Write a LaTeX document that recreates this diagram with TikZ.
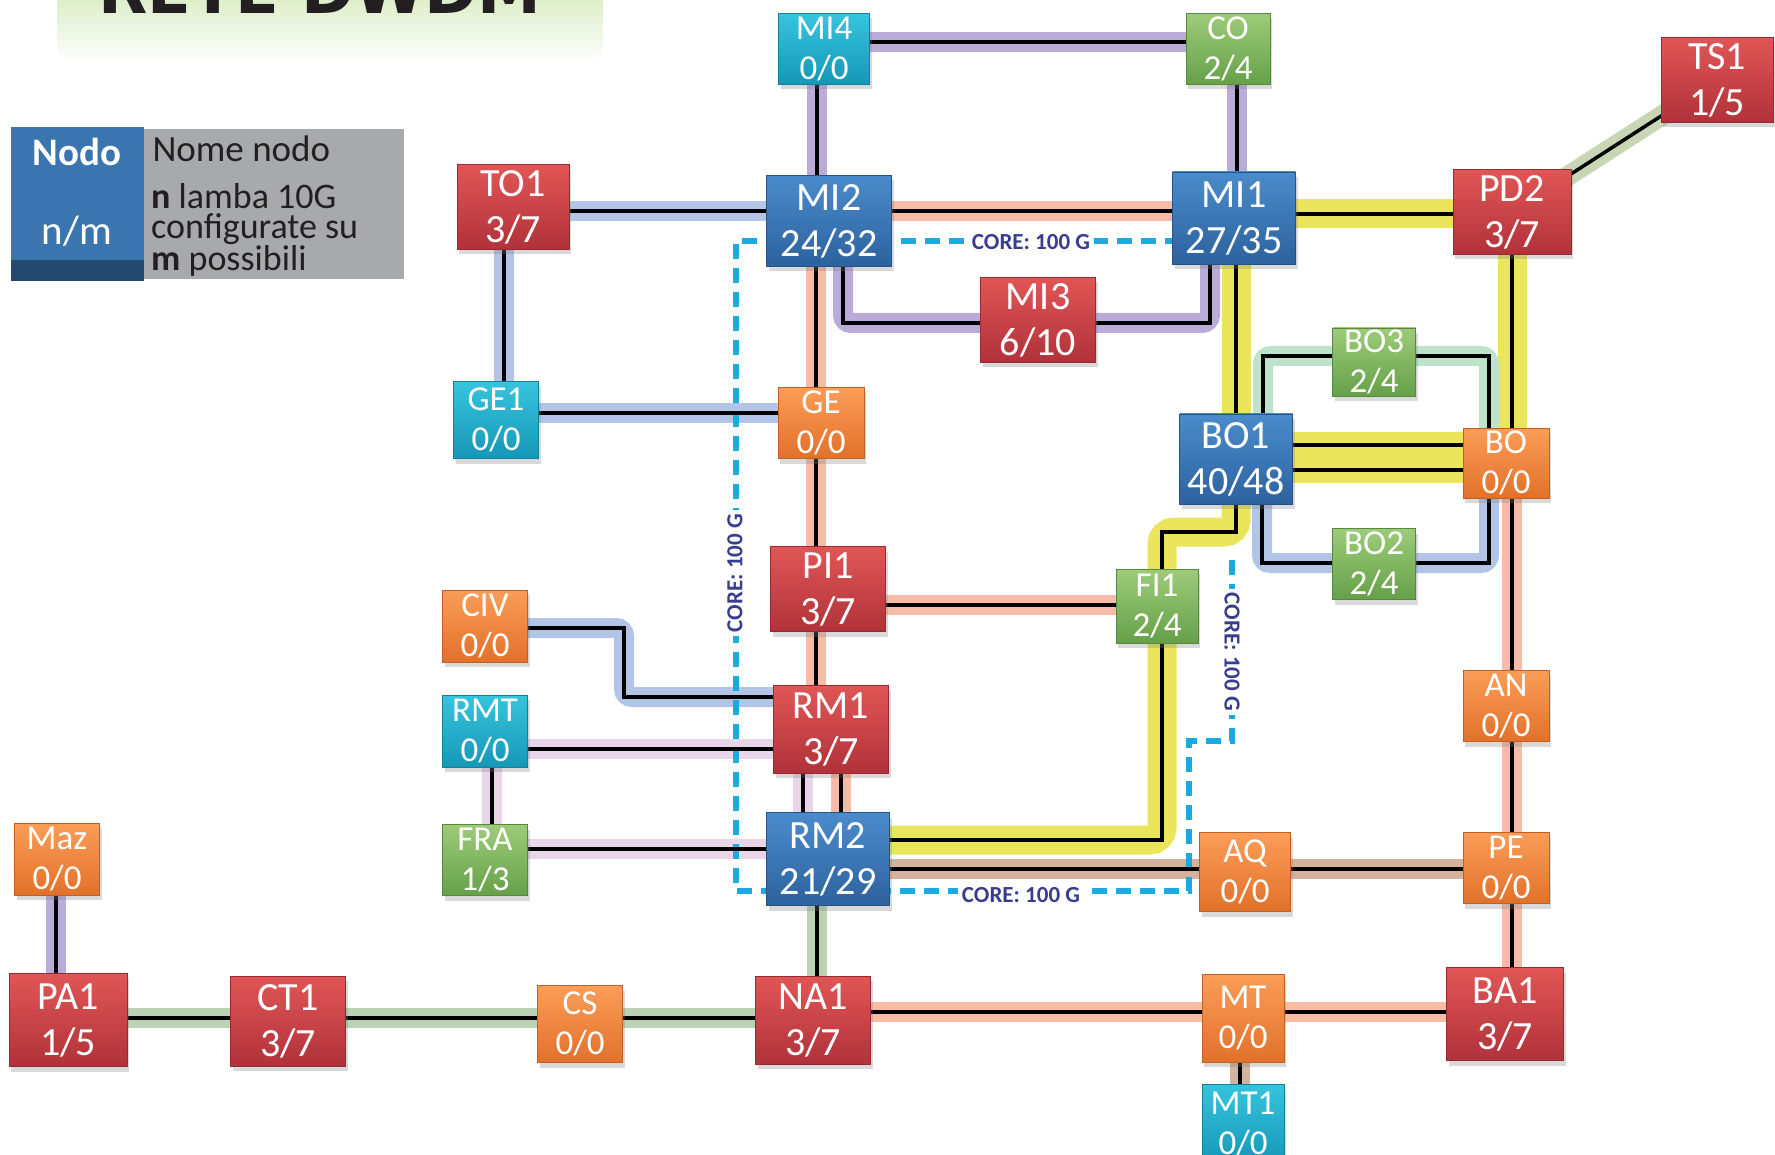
\documentclass[tikz,border=0pt]{standalone}
\usepackage{fontspec}
\setmainfont{Carlito}
\newfontfamily\titlefont{DejaVu Sans}
\usetikzlibrary{shadows}
\pgfdeclarelayer{bands}
\pgfdeclarelayer{cores}
\pgfdeclarelayer{wires}
\pgfsetlayers{bands,cores,wires,main}

% node fills
\definecolor{redT}{HTML}{E15656}\definecolor{redB}{HTML}{B0323A}
\definecolor{bluT}{HTML}{4B8BCB}\definecolor{bluB}{HTML}{2C629E}
\definecolor{cyaT}{HTML}{36C4DE}\definecolor{cyaB}{HTML}{1697B7}
\definecolor{grnT}{HTML}{9DCC79}\definecolor{grnB}{HTML}{66A049}
\definecolor{orgT}{HTML}{FB9D57}\definecolor{orgB}{HTML}{E1712B}
% link bands
\definecolor{bPur}{HTML}{BBABD9}
\definecolor{bBlu}{HTML}{B2C5E6}
\definecolor{bSal}{HTML}{F8BBA7}
\definecolor{bYel}{HTML}{EAE55A}
\definecolor{bMin}{HTML}{BFE2CB}
\definecolor{bGrn}{HTML}{BBD2B4}
\definecolor{bPnk}{HTML}{EAD6EA}
\definecolor{bTan}{HTML}{D4B29E}
\definecolor{bOli}{HTML}{C8D6B5}
% core ring
\definecolor{coreC}{HTML}{1CA9DE}
\definecolor{coreT}{HTML}{3A3D8E}
% legend
\definecolor{legB}{HTML}{3B75B0}
\definecolor{legD}{HTML}{25486F}
\definecolor{legG}{HTML}{A7A9AC}
\definecolor{ink}{HTML}{231F20}
\definecolor{banT}{HTML}{BFDF98}

\tikzset{
  box/.style 2 args={rectangle, inner sep=0pt, align=center, text=white,
    minimum width=#1pt, minimum height=#2pt,
    drop shadow={shadow xshift=2pt, shadow yshift=-5pt, opacity=.3}},
  big/.style={font=\fontsize{40}{46}\selectfont},
  small/.style={font=\fontsize{35}{40}\selectfont},
  rednode/.style={top color=redT, bottom color=redB, draw=redB!85!black, line width=.8pt},
  bluenode/.style={top color=bluT, bottom color=bluB, draw=bluB!85!black, line width=.8pt},
  cyannode/.style={top color=cyaT, bottom color=cyaB, draw=cyaB!85!black, line width=.8pt},
  greennode/.style={top color=grnT, bottom color=grnB, draw=grnB!85!black, line width=.8pt},
  orangenode/.style={top color=orgT, bottom color=orgB, draw=orgB!85!black, line width=.8pt},
  band/.style={line width=20pt, rounded corners=8pt},
  pur/.style={band, draw=bPur},
  blu/.style={band, draw=bBlu},
  sal/.style={band, draw=bSal},
  yel/.style={line width=29pt, rounded corners=12pt, draw=bYel},
  yeltwin/.style={line width=26pt, draw=bYel},
  mint/.style={band, draw=bMin},
  grn/.style={band, draw=bGrn},
  pnk/.style={band, draw=bPnk},
  tan/.style={band, draw=bTan},
  oli/.style={band, draw=bOli},
  wire/.style={draw=black, line width=3.5pt},
  core/.style={draw=coreC, line width=5.5pt, dash pattern=on 15pt off 9pt},
  corelabel/.style={fill=white, inner sep=4pt, text=coreT,
    font=\fontsize{23}{26}\selectfont\bfseries}
}

% a link: pastel band underneath, black fibre on top
\newcommand\link[2]{%
  \begin{pgfonlayer}{bands}\draw[#1] #2;\end{pgfonlayer}%
  \begin{pgfonlayer}{wires}\draw[wire] #2;\end{pgfonlayer}}

\begin{document}
\begin{tikzpicture}[x=1pt,y=-1pt]
\useasboundingbox (0,0) rectangle (1775,1155);

% ---- title banner
\begin{scope}
  \clip (0,0) rectangle (1775,1155);
  \shade[top color=banT, bottom color=white, rounded corners=20pt]
    (57,-60) rectangle (603,64);
  \node[anchor=base, text=ink, font=\fontsize{64}{70}\selectfont\titlefont\bfseries]
    (title) at (320,14) {RETE DWDM};
\end{scope}

% ---- legend
\fill[legB] (11,127) rectangle (144,281);
\fill[legD] (11,260) rectangle (144,281);
\fill[legG] (144,129) rectangle (404,279);
\node[text=white, font=\fontsize{39}{42}\selectfont\bfseries] (legname) at (77,152) {Nodo};
\node[text=white, font=\fontsize{41}{44}\selectfont] (legnm) at (77,231) {n/m};
\node[anchor=west, text=ink, font=\fontsize{37}{40}\selectfont] (legnome) at (149,149) {Nome nodo};
\node[anchor=north west, text=ink, align=left, inner sep=0pt,
      font=\fontsize{36}{30}\selectfont] (legtext) at (151,183)
  {\textbf{n} lamba 10G\\configurate su\\\textbf{m} possibili};

% ---- nodes
\node[box={91}{71}, small, cyannode] (MI4) at (824,49) {MI4\\0/0};
\node[box={84}{71}, small, greennode] (CO) at (1228,49) {CO\\2/4};
\node[box={112}{85}, big, rednode] (TS1) at (1717,80) {TS1\\1/5};
\node[box={112}{85}, big, rednode] (TO1) at (513,207) {TO1\\3/7};
\node[box={125}{91}, big, bluenode] (MI2) at (829,221) {MI2\\24/32};
\node[box={123}{92}, big, bluenode] (MI1) at (1234,218) {MI1\\27/35};
\node[box={118}{85}, big, rednode] (PD2) at (1512,212) {PD2\\3/7};
\node[box={115}{85}, big, rednode] (MI3) at (1038,320) {MI3\\6/10};
\node[box={83}{68}, small, greennode] (BO3) at (1374,362) {BO3\\2/4};
\node[box={85}{77}, small, cyannode] (GE1) at (496,420) {GE1\\0/0};
\node[box={86}{71}, small, orangenode] (GE) at (821,423) {GE\\0/0};
\node[box={113}{90}, big, bluenode] (BO1) at (1236,459) {BO1\\40/48};
\node[box={86}{70}, small, orangenode] (BO) at (1506,463) {BO\\0/0};
\node[box={83}{71}, small, greennode] (BO2) at (1374,564) {BO2\\2/4};
\node[box={115}{85}, big, rednode] (PI1) at (828,589) {PI1\\3/7};
\node[box={82}{74}, small, greennode] (FI1) at (1157,606) {FI1\\2/4};
\node[box={85}{72}, small, orangenode] (CIV) at (485,626) {CIV\\0/0};
\node[box={86}{71}, small, orangenode] (AN) at (1506,706) {AN\\0/0};
\node[box={85}{72}, small, cyannode] (RMT) at (485,731) {RMT\\0/0};
\node[box={115}{88}, big, rednode] (RM1) at (831,729) {RM1\\3/7};
\node[box={85}{71}, small, greennode] (FRA) at (485,860) {FRA\\1/3};
\node[box={123}{93}, big, bluenode] (RM2) at (828,859) {RM2\\21/29};
\node[box={91}{79}, small, orangenode] (AQ) at (1245,872) {AQ\\0/0};
\node[box={86}{71}, small, orangenode] (PE) at (1506,868) {PE\\0/0};
\node[box={85}{72}, small, orangenode] (Maz) at (57,859) {Maz\\0/0};
\node[box={118}{93}, big, rednode] (PA1) at (68,1020) {PA1\\1/5};
\node[box={115}{90}, big, rednode] (CT1) at (288,1021) {CT1\\3/7};
\node[box={85}{77}, small, orangenode] (CS) at (580,1024) {CS\\0/0};
\node[box={115}{88}, big, rednode] (NA1) at (813,1020) {NA1\\3/7};
\node[box={82}{88}, small, orangenode] (MT) at (1243,1018) {MT\\0/0};
\node[box={117}{93}, big, rednode] (BA1) at (1505,1014) {BA1\\3/7};
\node[box={82}{80}, small, cyannode] (MT1) at (1243,1124) {MT1\\0/0};

% ---- links
\link{pur}{(MI4.center |- 0,42) -- (CO.center |- 0,42)}
\link{pur}{(MI4.center -| 817,0) -- (MI2.center -| 817,0)}
\link{pur}{(CO.center -| 1237,0) -- (MI1.center -| 1237,0)}
\link{blu}{(TO1.center |- 0,211) -- (MI2.center |- 0,211)}
\link{sal}{(MI2.center |- 0,211) -- (MI1.center |- 0,211)}
\link{yel}{(MI1.center |- 0,214) -- (PD2.center |- 0,214)}
\link{pur}{(MI2.center -| 843,0) -- (843,323) -- (MI3.center |- 0,323)}
\link{pur}{(MI3.center |- 0,323) -- (1210,323) -- (MI1.center -| 1210,0)}
\link{blu}{(TO1.center -| 504,0) -- (GE1.center -| 504,0)}
\link{blu}{(GE1.center |- 0,413) -- (GE.center |- 0,413)}
\link{sal}{(MI2.center -| 816,0) -- (GE.center -| 816,0)}
\link{sal}{(GE.center -| 816,0) -- (PI1.center -| 816,0)}
\link{sal}{(PI1.center -| 816,0) -- (RM1.center -| 816,0)}
\link{sal}{(PI1.center |- 0,605) -- (FI1.center |- 0,605)}
\link{blu}{(CIV.center |- 0,628) -- (624,628) -- (624,697) -- (RM1.center |- 0,697)}
\link{pnk}{(RMT.center |- 0,749) -- (RM1.center |- 0,749)}
\link{pnk}{(RMT.center -| 492,0) -- (FRA.center -| 492,0)}
\link{pnk}{(FRA.center |- 0,849) -- (RM2.center |- 0,849)}
\link{pnk}{(RM1.center -| 803,0) -- (RM2.center -| 803,0)}
\link{sal}{(RM1.center -| 841,0) -- (RM2.center -| 841,0)}
\link{yel}{(MI1.center -| 1236,0) -- (BO1.center -| 1236,0)}
\link{yel}{(PD2.center -| 1512,0) -- (BO.center -| 1512,0)}
\link{yeltwin}{(BO1.center |- 0,445) -- (BO.center |- 0,445)}
\link{yeltwin}{(BO1.center |- 0,470) -- (BO.center |- 0,470)}
\link{mint}{(BO1.center -| 1263,0) -- (1263,356) -- (BO3.center |- 0,356)}
\link{mint}{(BO3.center |- 0,356) -- (1489,356) -- (BO.center -| 1489,0)}
\link{blu}{(BO1.center -| 1262,0) -- (1262,563) -- (BO2.center |- 0,563)}
\link{blu}{(BO2.center |- 0,563) -- (1489,563) -- (BO.center -| 1489,0)}
\link{yel}{(BO1.center -| 1236,0) -- (1236,532) -- (1162,532) -- (FI1.center -| 1162,0)}
\link{yel}{(FI1.center -| 1162,0) -- (1162,840) -- (RM2.center |- 0,840)}
\link{sal}{(BO.center -| 1512,0) -- (AN.center -| 1512,0)}
\link{sal}{(AN.center -| 1512,0) -- (PE.center -| 1512,0)}
\link{sal}{(PE.center -| 1512,0) -- (BA1.center -| 1512,0)}
\link{tan}{(RM2.center |- 0,869) -- (AQ.center |- 0,869)}
\link{tan}{(AQ.center |- 0,869) -- (PE.center |- 0,869)}
\link{grn}{(RM2.center -| 817,0) -- (NA1.center -| 817,0)}
\link{grn}{(PA1.center |- 0,1018) -- (CT1.center |- 0,1018)}
\link{grn}{(CT1.center |- 0,1018) -- (CS.center |- 0,1018)}
\link{grn}{(CS.center |- 0,1018) -- (NA1.center |- 0,1018)}
\link{sal}{(NA1.center |- 0,1012) -- (MT.center |- 0,1012)}
\link{sal}{(MT.center |- 0,1012) -- (BA1.center |- 0,1012)}
\link{tan}{(MT.center -| 1240,0) -- (MT1.center -| 1240,0)}
\link{pur}{(Maz.center -| 56,0) -- (PA1.center -| 56,0)}
\link{oli}{(PD2.center) -- (TS1.center)}

% ---- 100G core ring
\coordinate (coreend) at (1232,552);
\begin{pgfonlayer}{cores}
  \draw[core] (MI2.center |- 0,241) -- (MI1.center |- 0,241);
  \draw[core] (MI2.center |- 0,241) -- (736,241) -- (736,891) -- (RM2.center |- 0,891);
  \draw[core] (RM2.center |- 0,891) -- (1189,891) -- (1189,741) -- (1232,741) -- (coreend);
\end{pgfonlayer}
\node[corelabel] (coretop) at (1031,242) {CORE: 100 G};
\node[corelabel, rotate=90] (coreleft) at (735,573) {CORE: 100 G};
\node[corelabel] (corebottom) at (1021,895) {CORE: 100 G};
\node[corelabel, rotate=-90] (coreright) at (1232,652) {CORE: 100 G};
\end{tikzpicture}
\end{document}
